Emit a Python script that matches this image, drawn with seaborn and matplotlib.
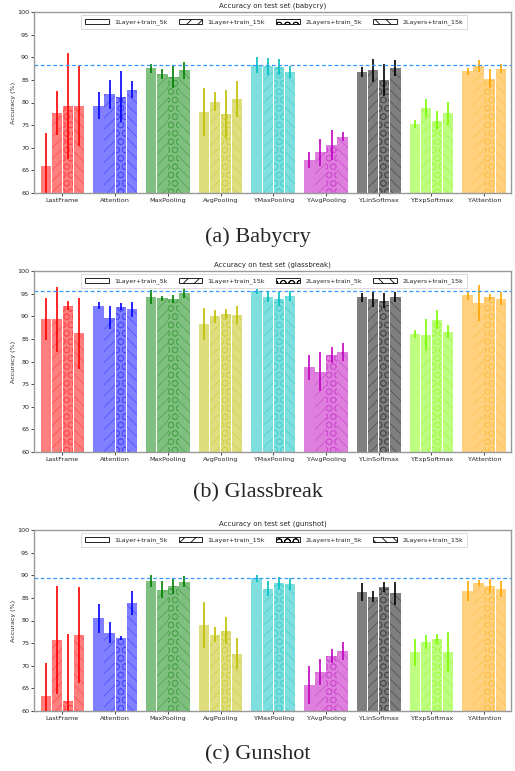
import pandas as pd
import matplotlib
matplotlib.use("Agg")
import matplotlib.pyplot as plt
from matplotlib.colors import to_rgba
from matplotlib.patches import Patch
import seaborn as sns

# Data
methods = ["LastFrame", "Attention", "MaxPooling", "AvgPooling", "Y.MaxPooling",
           "Y.AvgPooling", "Y.LinSoftmax", "Y.ExpSoftmax", "Y.Attention"]
configs = ["1Layer+train_5k", "1Layer+train_15k", "2Layers+train_5k", "2Layers+train_15k"]
# classic matplotlib r, b, g, y, c, m, k + lawngreen, orange
colors = ["#ff0000", "#0000ff", "#008000", "#bfbf00", "#00bfbf", "#bf00bf",
          "#000000", "#7cfc00", "#ffa500"]
hatches = ["", "///", "OO", "\\\\\\"]

babycry_acc = [
    [66.0, 79.3, 87.6, 78.0, 88.3, 67.3, 86.8, 75.3, 86.9],
    [77.7, 81.8, 86.2, 80.2, 88.0, 69.0, 87.1, 78.8, 88.1],
    [79.2, 81.3, 85.7, 77.4, 87.8, 70.6, 84.9, 76.0, 85.2],
    [79.2, 82.8, 87.1, 80.7, 86.7, 72.4, 87.6, 77.6, 87.5],
]
babycry_err = [
    [7.2, 3.0, 1.0, 5.3, 1.7, 1.8, 1.1, 0.9, 0.75],
    [4.9, 3.2, 1.1, 2.1, 1.9, 3.0, 2.6, 2.0, 1.35],
    [11.7, 5.7, 2.5, 5.4, 1.8, 3.4, 3.5, 2.1, 2.1],
    [8.9, 1.9, 1.9, 4.0, 1.3, 1.0, 1.7, 2.5, 1.0],
]
glassbreak_acc = [
    [89.4, 92.3, 94.2, 88.3, 95.5, 78.7, 94.2, 86.1, 94.6],
    [89.3, 89.7, 94.0, 90.0, 94.3, 77.7, 93.8, 85.9, 92.9],
    [92.3, 92.1, 93.8, 90.5, 93.8, 81.4, 93.4, 89.2, 94.3],
    [86.2, 91.5, 95.1, 90.3, 94.5, 82.1, 94.3, 86.6, 93.9],
]
glassbreak_err = [
    [4.6, 0.75, 1.5, 3.5, 0.6, 2.7, 1.0, 0.95, 0.9],
    [7.1, 2.5, 0.55, 1.45, 1.1, 4.3, 1.65, 3.4, 4.05],
    [1.0, 0.75, 0.85, 1.0, 1.5, 1.7, 1.65, 2.1, 0.65],
    [7.8, 1.65, 1.1, 2.05, 1.1, 1.95, 1.1, 1.5, 1.35],
]
gunshot_acc = [
    [63.4, 80.5, 88.75, 79.0, 89.3, 65.7, 86.25, 73.0, 86.5],
    [75.7, 77.3, 86.8, 76.9, 87.0, 68.6, 85.3, 75.2, 88.3],
    [62.2, 76.2, 87.6, 77.7, 88.3, 72.1, 87.4, 75.9, 87.6],
    [76.7, 83.9, 88.6, 72.7, 88.1, 73.2, 86.0, 73.0, 86.9],
]
gunshot_err = [
    [7.3, 3.2, 1.35, 5.0, 0.75, 4.2, 2.0, 2.95, 2.3],
    [11.9, 2.35, 1.85, 1.65, 1.65, 2.8, 1.25, 1.55, 0.7],
    [14.8, 0.45, 1.8, 3.0, 1.35, 1.55, 1.1, 1.2, 1.55],
    [10.6, 2.7, 1.25, 3.35, 1.35, 1.95, 2.6, 4.45, 1.8],
]

panels = [
    ("babycry", "(a) Babycry", babycry_acc, babycry_err),
    ("glassbreak", "(b) Glassbreak", glassbreak_acc, glassbreak_err),
    ("gunshot", "(c) Gunshot", gunshot_acc, gunshot_err),
]

sns.set_theme(style="ticks")
plt.rcParams["font.family"] = ["DejaVu Sans"]
plt.rcParams["hatch.linewidth"] = 0.6

fig = plt.figure(figsize=(5.15, 7.71), dpi=100)
W, H = 515, 771
ax_boxes = [(12, 193), (271, 452), (530, 711)]
caption_y = [237, 493, 755]

for (name, caption, acc, err), (top, bot), cy in zip(panels, ax_boxes, caption_y):
    ax = fig.add_axes([34 / W, 1 - bot / H, 477 / W, (bot - top) / H])
    df = pd.DataFrame(
        [(m, c, acc[i][j]) for i, c in enumerate(configs) for j, m in enumerate(methods)],
        columns=["method", "config", "acc"],
    )
    sns.barplot(data=df, x="method", y="acc", hue="config", order=methods,
                hue_order=configs, errorbar=None, width=0.84, gap=0.06,
                legend=False, ax=ax)

    bar_groups = list(ax.containers)
    for i, cont in enumerate(bar_groups):
        for j, patch in enumerate(cont.patches):
            col = colors[j]
            patch.set_facecolor(to_rgba(col, 0.5))
            patch.set_edgecolor(to_rgba(col, 0.35))
            patch.set_linewidth(0)
            patch.set_hatch(hatches[i])
            xc = patch.get_x() + patch.get_width() / 2
            ax.errorbar(xc, acc[i][j], yerr=err[i][j], fmt="none",
                        ecolor=col, elinewidth=1.2, capsize=0)

    best = max(max(row) for row in acc)
    ax.axhline(best, color="#3399ff", ls="--", lw=0.9, dashes=(3, 2))

    ax.set_ylim(60, 100)
    ax.set_xlim(-0.54, 8.51)
    ax.set_yticks(range(60, 101, 5))
    ax.tick_params(axis="both", labelsize=4.6, length=2, width=0.6, pad=1.5)
    ax.set_xlabel("")
    ax.set_ylabel("Accuracy (%)", fontsize=4.6, labelpad=1)
    ax.set_title(f"Accuracy on test set ({name})", fontsize=5, pad=3)
    for sp in ax.spines.values():
        sp.set_visible(True)
        sp.set_color("#999999")
        sp.set_linewidth(1.0)

    handles = [Patch(facecolor="white", edgecolor="black", hatch=h, linewidth=0.6)
               for h in hatches]
    leg = ax.legend(handles, configs, loc="upper center", ncol=4, fontsize=4.6,
                    handlelength=3.7, handleheight=1.0, columnspacing=1.8,
                    handletextpad=0.8, borderpad=0.6,
                    borderaxespad=0.45, frameon=True, fancybox=False,
                    bbox_to_anchor=(0.503, 1.0))
    leg.get_frame().set_edgecolor("#cccccc")
    leg.get_frame().set_linewidth(0.6)

    fig.text(0.5, 1 - cy / H, caption, ha="center", va="center",
             fontsize=16, family="Liberation Serif")

fig.savefig("out.png", dpi=100)
